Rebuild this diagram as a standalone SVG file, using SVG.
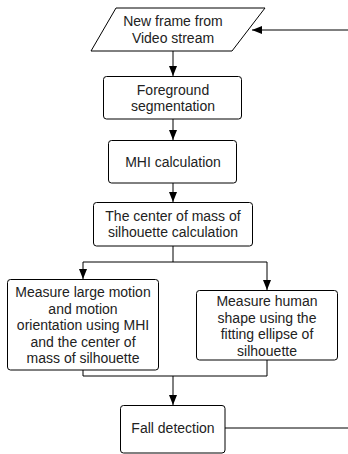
<svg xmlns="http://www.w3.org/2000/svg" width="348" height="454" viewBox="0 0 348 454">
<style>
.box{fill:#fff;stroke:#000;stroke-width:1}
.t{font-family:"Liberation Sans",Arial,sans-serif;font-size:14px;fill:#222;text-anchor:middle}
.c{fill:none;stroke:#000;stroke-width:1}
</style>
<defs>
<marker id="ah" markerWidth="10" markerHeight="10" refX="10" refY="4.5" orient="auto" markerUnits="userSpaceOnUse">
<path d="M0,0.5 L10,4.5 L0,8.5 z" fill="#000"/>
</marker>
</defs>
<rect width="348" height="454" fill="#fff"/>
<g id="connectors">
<path class="c" d="M348,30 L252,30" marker-end="url(#ah)"/>
<path class="c" d="M173,51 L173,76" marker-end="url(#ah)"/>
<path class="c" d="M173,119 L173,140" marker-end="url(#ah)"/>
<path class="c" d="M173,183 L173,202" marker-end="url(#ah)"/>
<path class="c" d="M173,246 L173,262 M83,262 L267,262"/>
<path class="c" d="M83,262 L83,279" marker-end="url(#ah)"/>
<path class="c" d="M267,262 L267,290" marker-end="url(#ah)"/>
<path class="c" d="M83,370 L83,376 L267,376 L267,360"/>
<path class="c" d="M173,376 L173,405" marker-end="url(#ah)"/>
<path class="c" d="M225,428 L348,428"/>
</g>
<g id="n1">
<polygon class="box" points="116,8 265,8 232,51 91,51"/>
<text class="t" x="173" y="26">New frame from</text>
<text class="t" x="173" y="43">Video stream</text>
</g>
<g id="n2">
<rect class="box" x="103.5" y="76.5" width="138" height="42.5" rx="3"/>
<text class="t" x="173" y="95">Foreground</text>
<text class="t" x="173" y="111">segmentation</text>
</g>
<g id="n3">
<rect class="box" x="108.5" y="140.5" width="128" height="42.5" rx="3"/>
<text class="t" x="173" y="167">MHI calculation</text>
</g>
<g id="n4">
<rect class="box" x="93.5" y="202.5" width="159" height="43.5" rx="3"/>
<text class="t" x="173" y="221">The center of mass of</text>
<text class="t" x="173" y="237">silhouette calculation</text>
</g>
<g id="n5">
<rect class="box" x="7.5" y="279.5" width="151" height="90.5" rx="3"/>
<text class="t" x="83" y="297">Measure large motion</text>
<text class="t" x="83" y="313.5">and motion</text>
<text class="t" x="83" y="330">orientation using MHI</text>
<text class="t" x="83" y="346.5">and the center of</text>
<text class="t" x="83" y="363">mass of silhouette</text>
</g>
<g id="n6">
<rect class="box" x="196.5" y="290.5" width="141" height="69.5" rx="3"/>
<text class="t" x="267" y="306">Measure human</text>
<text class="t" x="267" y="322.5">shape using the</text>
<text class="t" x="267" y="339">fitting ellipse of</text>
<text class="t" x="267" y="355.5">silhouette</text>
</g>
<g id="n7">
<rect class="box" x="120.5" y="405.5" width="104.5" height="47.5" rx="3"/>
<text class="t" x="173" y="433">Fall detection</text>
</g>
</svg>
